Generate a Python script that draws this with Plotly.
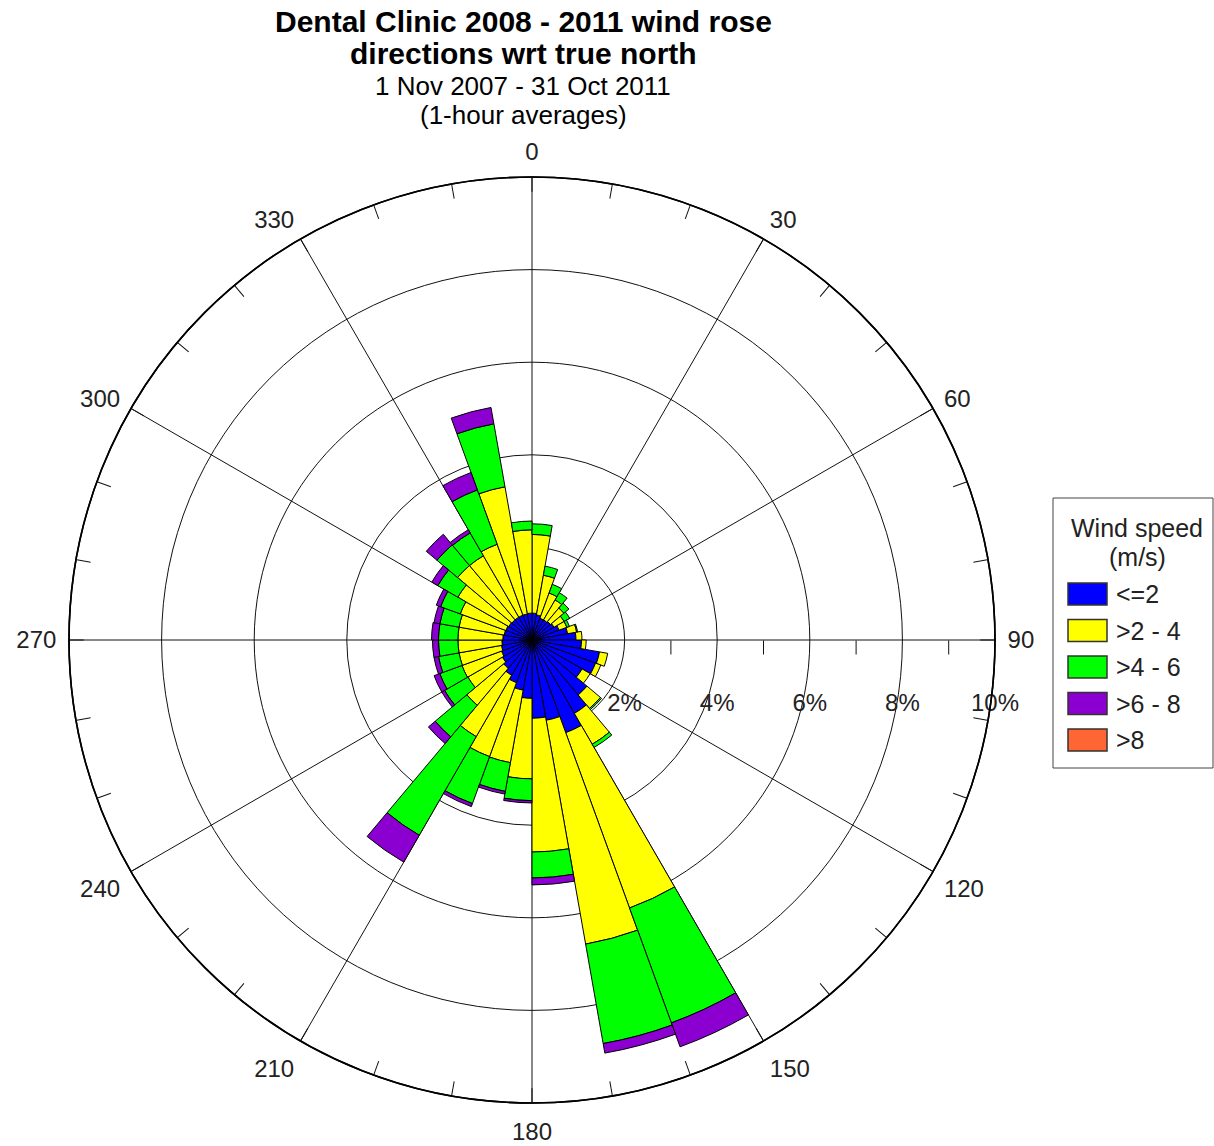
import plotly.graph_objects as go

# Wind rose: frequency (% of hours) per 10-degree sector, stacked by wind-speed class
DIRECTIONS = [5, 15, 25, 35, 45, 55, 65, 75, 85, 95, 105, 115,
              125, 135, 145, 155, 165, 175, 185, 195, 205, 215, 225, 235,
              245, 255, 265, 275, 285, 295, 305, 315, 325, 335, 345, 355]
SECTOR_WIDTH = 10

SPEED_CLASSES = ["<=2", ">2 - 4", ">4 - 6", ">6 - 8", ">8"]
COLORS = ["#0000FF", "#FFFF00", "#00FF00", "#8B00D0", "#FF6633"]

FREQ_LE2 = [0.58, 0.55, 0.50, 0.50, 0.52, 0.55, 0.62, 0.78, 0.95, 1.07, 1.48, 1.46,
            1.25, 1.55, 1.83, 2.13, 1.76, 1.69, 1.26, 1.10, 0.98, 0.88, 0.80, 0.74,
            0.70, 0.67, 0.65, 0.63, 0.61, 0.60, 0.58, 0.57, 0.57, 0.57, 0.57, 0.58]
FREQ_2_4 = [1.70, 0.87, 0.58, 0.50, 0.38, 0.25, 0.18, 0.20, 0.13, 0.10, 0.18, 0.12,
            0.20, 0.38, 0.77, 4.03, 4.91, 2.89, 1.74, 1.59, 1.70, 1.53, 1.04, 0.86,
            0.91, 0.93, 0.95, 0.97, 0.99, 1.05, 1.27, 1.53, 1.53, 1.63, 2.79, 1.80]
FREQ_4_6 = [0.23, 0.20, 0.20, 0.18, 0.14, 0.14, 0.06, 0.02, 0.00, 0.00, 0.00, 0.00,
            0.00, 0.03, 0.08, 2.64, 2.18, 0.56, 0.47, 0.63, 1.08, 2.46, 0.89, 0.58,
            0.51, 0.45, 0.42, 0.42, 0.42, 0.45, 0.50, 0.58, 0.57, 1.25, 1.38, 0.19]
FREQ_6_8 = [0.00, 0.00, 0.00, 0.00, 0.00, 0.00, 0.00, 0.00, 0.00, 0.00, 0.00, 0.00,
            0.00, 0.00, 0.00, 0.55, 0.21, 0.15, 0.05, 0.06, 0.07, 0.67, 0.19, 0.07,
            0.13, 0.10, 0.13, 0.15, 0.13, 0.10, 0.15, 0.30, 0.08, 0.40, 0.36, 0.00]
FREQ_GT8 = [0.00, 0.00, 0.00, 0.00, 0.00, 0.00, 0.00, 0.00, 0.00, 0.00, 0.00, 0.00,
            0.00, 0.00, 0.00, 0.00, 0.00, 0.00, 0.00, 0.00, 0.00, 0.00, 0.00, 0.00,
            0.00, 0.00, 0.00, 0.00, 0.00, 0.00, 0.00, 0.00, 0.00, 0.00, 0.00, 0.00]

RING_VALUES = [2, 4, 6, 8, 10]
RING_LABELS = ["2%", "4%", "6%", "8%", "10%"]
ODD_RADIAL_TICKS = [3, 5, 7, 9]
SPOKE_ANGLES = [0, 30, 60, 90, 120, 150, 180, 210, 240, 270, 300, 330]
COMPASS_TICKS = list(range(0, 360, 10))

TITLE_LINES = ["<b>Dental Clinic 2008 - 2011 wind rose</b>",
               "<b>directions wrt true north</b>",
               "1 Nov 2007 - 31 Oct 2011",
               "(1-hour averages)"]

FONT = "Liberation Sans, Arial, Helvetica, sans-serif"
W, H = 1214, 1146
CX, CY, R = 532, 640, 463  # rose centre and outer radius in pixels
CLEAR = "rgba(0,0,0,0)"


def px_x(x):
    return x / W


def px_y(y):
    return 1 - y / H


domain = dict(x=[px_x(CX - R), px_x(CX + R)], y=[px_y(CY + R), px_y(CY - R)])

fig = go.Figure()
series = [FREQ_LE2, FREQ_2_4, FREQ_4_6, FREQ_6_8, FREQ_GT8]
for name, color, vals in zip(SPEED_CLASSES, COLORS, series):
    fig.add_trace(go.Barpolar(
        r=vals, theta=DIRECTIONS, width=SECTOR_WIDTH, name=name,
        marker=dict(color=color, line=dict(color="black", width=1)),
        subplot="polar", showlegend=False,
    ))

# overlay subplot that only carries the minor compass / radial ticks
fig.add_trace(go.Scatterpolar(r=[0], theta=[0], mode="markers",
                              marker=dict(opacity=0), hoverinfo="skip",
                              subplot="polar2", showlegend=False))

tickfont = dict(family=FONT, size=24, color="#222")

fig.update_layout(
    width=W, height=H, margin=dict(l=0, r=0, t=0, b=0),
    paper_bgcolor="white", showlegend=False,
    polar=dict(
        domain=domain, bgcolor="white", barmode="stack", bargap=0,
        angularaxis=dict(rotation=90, direction="clockwise",
                         tickmode="array", tickvals=SPOKE_ANGLES,
                         ticktext=[str(a) for a in SPOKE_ANGLES],
                         ticks="outside", ticklen=7, tickcolor=CLEAR,
                         showgrid=True, gridcolor="#111", gridwidth=1.2,
                         showline=True, linecolor="black", linewidth=1.6,
                         tickfont=tickfont),
        radialaxis=dict(range=[0, 10], angle=0, side="clockwise",
                        tickmode="array", tickvals=RING_VALUES, ticktext=RING_LABELS,
                        ticks="outside", ticklen=42, tickcolor=CLEAR,
                        showgrid=True, gridcolor="#111", gridwidth=1.2,
                        showline=False, tickfont=tickfont),
    ),
    polar2=dict(
        domain=domain, bgcolor=CLEAR,
        angularaxis=dict(rotation=90, direction="clockwise",
                         tickmode="array", tickvals=COMPASS_TICKS,
                         showticklabels=False, ticks="inside", ticklen=14,
                         tickwidth=1.2, tickcolor="#111", showgrid=False,
                         showline=True, linecolor="black", linewidth=1.6),
        radialaxis=dict(range=[0, 10], angle=0, side="clockwise",
                        tickmode="array", tickvals=ODD_RADIAL_TICKS,
                        showticklabels=False, ticks="outside", ticklen=14,
                        tickwidth=1.2, tickcolor="#111", showgrid=False,
                        showline=False),
    ),
)

# title block
title_y = [21, 54, 86, 115]
title_size = [30, 30, 26, 26]
for text, y, s in zip(TITLE_LINES, title_y, title_size):
    fig.add_annotation(text=text, x=px_x(523), y=px_y(y), xref="paper", yref="paper",
                       xanchor="center", yanchor="middle", showarrow=False,
                       font=dict(family=FONT, size=s, color="black"))

# legend box
LX0, LX1, LY0, LY1 = 1053, 1213, 498, 768
fig.add_shape(type="rect", xref="paper", yref="paper",
              x0=px_x(LX0), x1=px_x(LX1), y0=px_y(LY1), y1=px_y(LY0),
              line=dict(color="#444", width=1), fillcolor="white")
for text, y in zip(["Wind speed", "(m/s)"], [528, 557]):
    fig.add_annotation(text=text, x=px_x(1137), y=px_y(y), xref="paper", yref="paper",
                       xanchor="center", yanchor="middle", showarrow=False,
                       font=dict(family=FONT, size=25, color="#222"))
row_y0, row_step = 594, 36.5
for i, (name, color) in enumerate(zip(SPEED_CLASSES, COLORS)):
    yc = row_y0 + i * row_step
    fig.add_shape(type="rect", xref="paper", yref="paper",
                  x0=px_x(1068), x1=px_x(1107), y0=px_y(yc + 11), y1=px_y(yc - 11),
                  line=dict(color="#333", width=1.5), fillcolor=color)
    fig.add_annotation(text=name, x=px_x(1114), y=px_y(yc), xref="paper", yref="paper",
                       xanchor="left", yanchor="middle", showarrow=False,
                       font=dict(family=FONT, size=25, color="#222"))

fig.write_html("out.html")
